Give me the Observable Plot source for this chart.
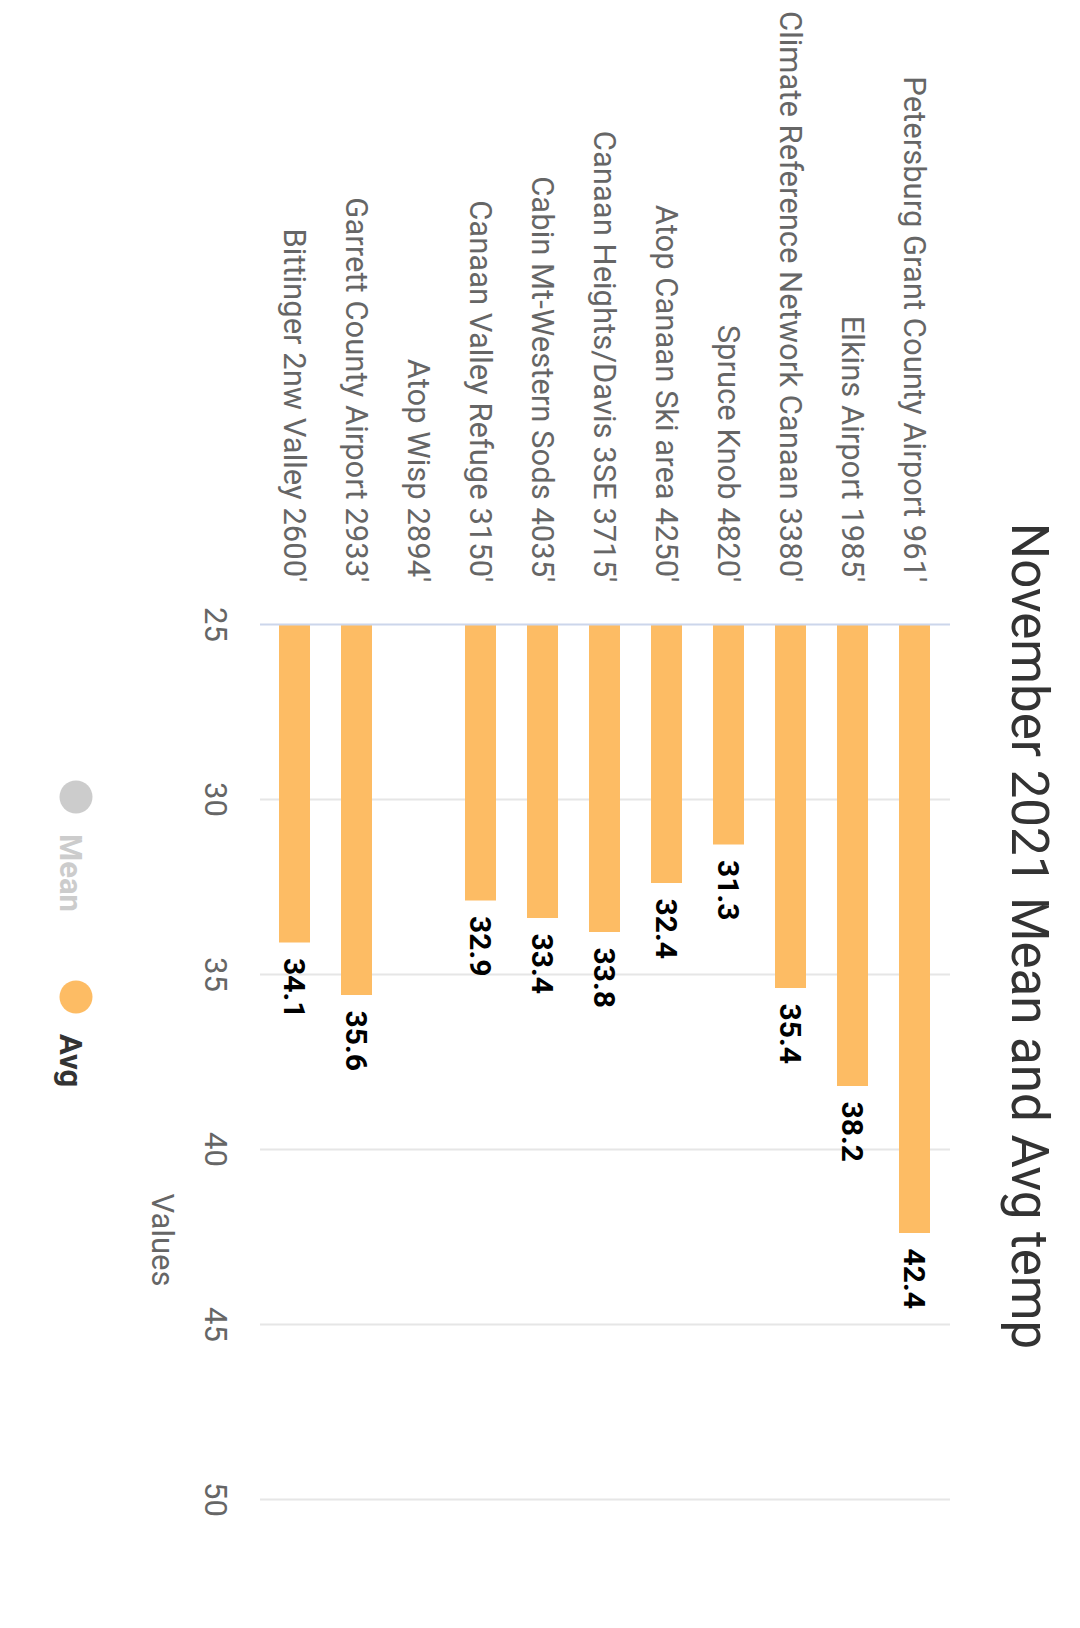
<!DOCTYPE html>
<html>
<head>
<meta charset="utf-8">
<script src="https://cdn.jsdelivr.net/npm/d3@7"></script>
<script src="https://cdn.jsdelivr.net/npm/@observablehq/plot@0.6"></script>
<style>
  html, body { margin: 0; padding: 0; background: #fff; overflow: hidden; width: 1080px; height: 1628px; }
  #rot { position: absolute; left: 1080px; top: 0; width: 1628px; height: 1080px;
         transform-origin: 0 0; transform: rotate(90deg); font-family: Roboto, sans-serif; }
  #rot svg { position: absolute; left: 0; top: 0; }
</style>
</head>
<body>
<div id="rot"></div>
<script>
// ---- data ----
const titleText = "November 2021 Mean and Avg temp";
const stations = [
  "Petersburg Grant County Airport 961'",
  "Elkins Airport 1985'",
  "Climate Reference Network Canaan 3380'",
  "Spruce Knob 4820'",
  "Atop Canaan Ski area 4250'",
  "Canaan Heights/Davis 3SE 3715'",
  "Cabin Mt-Western Sods 4035'",
  "Canaan Valley Refuge 3150'",
  "Atop Wisp 2894'",
  "Garrett County Airport 2933'",
  "Bittinger 2nw Valley 2600'"
];
const avgValues = [42.4, 38.2, 35.4, 31.3, 32.4, 33.8, 33.4, 32.9, null, 35.6, 34.1];
const seriesNames = ["Mean", "Avg"];
const seriesVisible = [false, true];
const valueTicks = [25, 30, 35, 40, 45, 50];
const axisTitle = "Values";

// ---- styles ----
const avgColor = "#fdbc64";
const hiddenColor = "#cccccc";

const data = stations.map((s, i) => ({station: s, avg: avgValues[i]})).filter(d => d.avg != null);

const W = 1628, H = 1080;
const plot = Plot.plot({
  width: W, height: H,
  marginLeft: 624, marginRight: 129, marginTop: 130, marginBottom: 260,
  style: {fontFamily: "Roboto, sans-serif", background: "transparent", overflow: "visible"},
  x: {domain: [25, 50]},
  y: {domain: stations, paddingInner: 0.5, paddingOuter: 0.25},
  marks: [
    Plot.gridX({ticks: valueTicks.filter(t => t !== 25), stroke: "#e6e6e6", strokeOpacity: 1, strokeWidth: 2}),
    Plot.barX(data, {x1: d => 25, x2: "avg", y: "station", fill: avgColor}),
    Plot.ruleX([25], {stroke: "#ccd6eb", strokeWidth: 2}),
    Plot.text(data, {x: "avg", y: "station", text: d => d.avg.toFixed(1), dx: 15, textAnchor: "start",
                     fontWeight: "bold", fontSize: 30, fill: "#000"}),
    Plot.axisX({ticks: valueTicks, tickSize: 0, tickPadding: 32, fontSize: 31, color: "#666", label: null}),
    Plot.axisY({tickSize: 0, tickPadding: 42, fontSize: 31, color: "#666", label: null})
  ]
});
document.getElementById("rot").appendChild(plot);

// overlay: title, axis title, legend
const svg = d3.select("#rot").append("svg").attr("width", W).attr("height", H)
  .style("font-family", "Roboto, sans-serif");
svg.append("text").attr("x", 936).attr("y", 68).attr("text-anchor", "middle")
  .attr("font-size", 51).attr("fill", "#333").text(titleText);
svg.append("text").attr("x", 1240).attr("y", 928).attr("text-anchor", "middle")
  .attr("font-size", 31).attr("fill", "#666").text(axisTitle);
const legX = [797, 997];
seriesNames.forEach((name, i) => {
  const col = seriesVisible[i] ? avgColor : hiddenColor;
  svg.append("circle").attr("cx", legX[i]).attr("cy", 1004).attr("r", 16.5).attr("fill", col);
  svg.append("text").attr("x", legX[i] + 37).attr("y", 1020).attr("font-size", 31)
    .attr("font-weight", "bold").attr("fill", seriesVisible[i] ? "#333" : hiddenColor).text(name);
});
</script>
</body>
</html>
